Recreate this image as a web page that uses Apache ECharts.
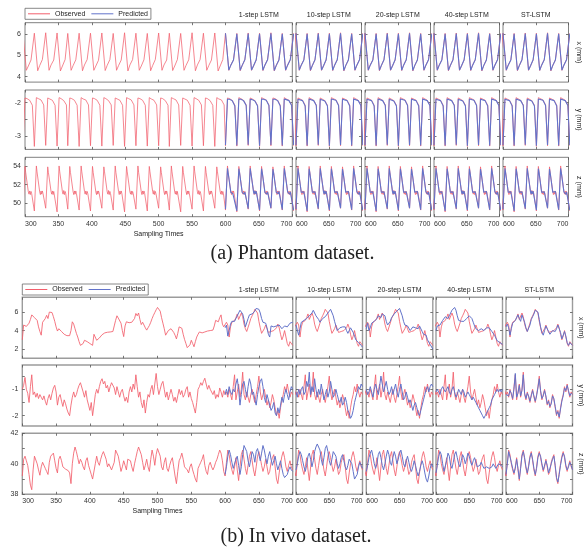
<!DOCTYPE html>
<html><head><meta charset="utf-8">
<script src="https://cdn.jsdelivr.net/npm/echarts@6.0.0/dist/echarts.min.js"></script>
<style>html,body{margin:0;padding:0;background:#fff}#c{width:585px;height:549px}</style>
</head><body><div id="c"></div>
<script>
// ---------- tick labels / categories ----------
const methods = ['1-step LSTM','10-step LSTM','20-step LSTM','40-step LSTM','ST-LSTM'];
const dimLabels = ['x (mm)','y (mm)','z (mm)'];
const wideXTicks = [300,350,400,450,500,550,600,650,700];
const narrowXTicks = [600,650,700];

// ---------- (a) Phantom: [sampling time, value] ----------
const phObsX = [[297,6.02],[302,4.3],[305,4.5],[309,4.78],[314,6.03],[319,4.28],[322,4.52],[326,4.8],
[331,6.05],[336,4.3],[339,4.55],[343,4.78],[348,6.04],[353,4.27],[356,4.5],[360,4.8],
[364,6.02],[369,4.3],[372,4.52],[376,4.79],[381,6.03],[386,4.28],[389,4.55],[393,4.8],
[398,6.03],[403,4.3],[406,4.5],[410,4.77],[415,6.04],[420,4.29],[423,4.53],[427,4.8],
[432,6.02],[437,4.3],[440,4.52],[444,4.78],[449,6.05],[454,4.27],[457,4.55],[461,4.8],
[466,6.03],[471,4.3],[474,4.5],[478,4.79],[483,6.02],[488,4.28],[491,4.52],[495,4.8],
[500,6.04],[505,4.3],[508,4.55],[512,4.78],[516,6.03],[521,4.29],[524,4.5],[528,4.8],
[533,6.02],[538,4.3],[541,4.53],[545,4.79],[550,6.05],[555,4.28],[558,4.55],[562,4.8],
[567,6.03],[572,4.3],[575,4.52],[579,4.78],[584,6.04],[589,4.27],[592,4.5],[596,4.8],
[600,6.03],[605,4.3],[608,4.55],[612,4.79],[617,6.02],[622,4.28],[625,4.52],[629,4.8],
[634,6.04],[639,4.3],[642,4.5],[646,4.78],[651,6.03],[656,4.29],[659,4.55],[663,4.8],
[668,6.05],[673,4.27],[676,4.52],[680,4.79],[685,6.02],[690,4.3],[693,4.55],[697,4.8],[702,6.03]];
const phPredX = [[600,6.03],[605,4.31],[608,4.54],[612,4.78],[617,6.0],[622,4.3],[625,4.53],[629,4.79],
[634,6.01],[639,4.31],[642,4.51],[646,4.79],[651,6.0],[656,4.3],[659,4.54],[663,4.79],
[668,6.02],[673,4.29],[676,4.53],[680,4.78],[685,6.0],[690,4.31],[693,4.54],[697,4.79],[702,6.0]];
const phObsY = [[297,-3.3],[300,-1.86],[303,-1.88],[307,-1.93],[311,-2.08],
[314,-3.32],[317,-1.85],[320,-1.88],[324,-1.92],[328,-2.07],[331,-3.29],[334,-1.86],[337,-1.89],[341,-1.93],[345,-2.08],
[348,-3.31],[351,-1.85],[354,-1.88],[358,-1.94],[362,-2.07],[364,-3.3],[367,-1.86],[370,-1.88],[374,-1.93],[378,-2.08],
[381,-3.32],[384,-1.85],[387,-1.89],[391,-1.92],[395,-2.07],[398,-3.3],[401,-1.86],[404,-1.88],[408,-1.93],[412,-2.08],
[415,-3.31],[418,-1.85],[421,-1.88],[425,-1.94],[429,-2.07],[432,-3.29],[435,-1.86],[438,-1.89],[442,-1.93],[446,-2.08],
[449,-3.32],[452,-1.85],[455,-1.88],[459,-1.92],[463,-2.07],[466,-3.3],[469,-1.86],[472,-1.88],[476,-1.93],[480,-2.08],
[483,-3.31],[486,-1.85],[489,-1.89],[493,-1.93],[497,-2.07],[500,-3.3],[503,-1.86],[506,-1.88],[510,-1.94],[514,-2.08],
[516,-3.32],[519,-1.85],[522,-1.88],[526,-1.92],[530,-2.07],[533,-3.29],[536,-1.86],[539,-1.89],[543,-1.93],[547,-2.08],
[550,-3.31],[553,-1.85],[556,-1.88],[560,-1.93],[564,-2.07],[567,-3.3],[570,-1.86],[573,-1.88],[577,-1.94],[581,-2.08],
[584,-3.32],[587,-1.85],[590,-1.89],[594,-1.92],[598,-2.07],[600,-3.3],[603,-1.86],[606,-1.88],[610,-1.93],[614,-2.08],
[617,-3.31],[620,-1.85],[623,-1.88],[627,-1.93],[631,-2.07],[634,-3.29],[637,-1.86],[640,-1.89],[644,-1.94],[648,-2.08],
[651,-3.32],[654,-1.85],[657,-1.88],[661,-1.92],[665,-2.07],[668,-3.3],[671,-1.86],[674,-1.88],[678,-1.93],[682,-2.08],
[685,-3.31],[688,-1.85],[691,-1.89],[695,-1.93],[699,-2.07],[702,-3.3]];
const phPredY = [[600,-3.28],[603,-1.9],[606,-1.9],[610,-1.94],[614,-2.1],[617,-3.29],[620,-1.89],[623,-1.9],[627,-1.94],[631,-2.09],
[634,-3.27],[637,-1.9],[640,-1.91],[644,-1.95],[648,-2.1],[651,-3.3],[654,-1.89],[657,-1.9],[661,-1.93],[665,-2.09],
[668,-3.28],[671,-1.9],[674,-1.9],[678,-1.94],[682,-2.1],[685,-3.29],[688,-1.89],[691,-1.91],[695,-1.94],[699,-2.09],[702,-3.28]];
const phObsZ = [
[297,49.3],[300,54.0],[301,53.35],[303,53.4],[305,51.2],[306,50.95],[307,51.3],[308,50.9],[309,51.25],[310,51.0],
[314,49.1],[317,54.05],[318,53.4],[320,53.4],[322,51.2],[323,50.9],[324,51.3],[325,50.95],[326,51.3],[327,51.0],
[331,49.4],[334,53.95],[335,53.35],[337,53.4],[339,51.25],[340,50.95],[341,51.3],[342,50.9],[343,51.25],[344,51.05],
[348,49.0],[351,54.05],[352,53.4],[354,53.45],[356,51.2],[357,50.95],[358,51.35],[359,50.9],[360,51.25],[361,51.0],
[364,49.3],[367,54.0],[368,53.35],[370,53.4],[372,51.2],[373,50.9],[374,51.3],[375,50.95],[376,51.3],[377,51.0],
[381,49.2],[384,54.05],[385,53.4],[387,53.4],[389,51.25],[390,50.95],[391,51.3],[392,50.9],[393,51.25],[394,51.0],
[398,49.1],[401,54.0],[402,53.35],[404,53.45],[406,51.2],[407,50.9],[408,51.3],[409,50.95],[410,51.3],[411,51.05],
[415,49.4],[418,53.95],[419,53.4],[421,53.4],[423,51.2],[424,50.95],[425,51.35],[426,50.9],[427,51.25],[428,51.0],
[432,49.2],[435,54.05],[436,53.35],[438,53.4],[440,51.25],[441,50.9],[442,51.3],[443,50.95],[444,51.3],[445,51.0],
[449,49.0],[452,54.0],[453,53.4],[455,53.45],[457,51.2],[458,50.95],[459,51.3],[460,50.9],[461,51.25],[462,51.0],
[466,49.3],[469,54.05],[470,53.35],[472,53.4],[474,51.2],[475,50.9],[476,51.3],[477,50.95],[478,51.3],[479,51.05],
[483,49.1],[486,54.0],[487,53.4],[489,53.4],[491,51.25],[492,50.95],[493,51.35],[494,50.9],[495,51.25],[496,51.0],
[500,49.4],[503,53.95],[504,53.35],[506,53.45],[508,51.2],[509,50.9],[510,51.3],[511,50.95],[512,51.3],[513,51.0],
[516,49.2],[519,54.05],[520,53.4],[522,53.4],[524,51.2],[525,50.95],[526,51.3],[527,50.9],[528,51.25],[529,51.05],
[533,49.0],[536,54.0],[537,53.35],[539,53.4],[541,51.25],[542,50.9],[543,51.3],[544,50.95],[545,51.3],[546,51.0],
[550,49.3],[553,54.05],[554,53.4],[556,53.45],[558,51.2],[559,50.95],[560,51.35],[561,50.9],[562,51.25],[563,51.0],
[567,49.1],[570,54.0],[571,53.35],[573,53.4],[575,51.2],[576,50.9],[577,51.3],[578,50.95],[579,51.3],[580,51.05],
[584,49.4],[587,53.95],[588,53.4],[590,53.4],[592,51.25],[593,50.95],[594,51.3],[595,50.9],[596,51.25],[597,51.0],
[600,49.2],[603,54.05],[604,53.35],[606,53.45],[608,51.2],[609,50.9],[610,51.3],[611,50.95],[612,51.3],[613,51.0],
[617,49.0],[620,54.0],[621,53.4],[623,53.4],[625,51.2],[626,50.95],[627,51.3],[628,50.9],[629,51.25],[630,51.05],
[634,49.3],[637,54.05],[638,53.35],[640,53.4],[642,51.25],[643,50.9],[644,51.35],[645,50.95],[646,51.3],[647,51.0],
[651,49.1],[654,54.0],[655,53.4],[657,53.45],[659,51.2],[660,50.95],[661,51.3],[662,50.9],[663,51.25],[664,51.0],
[668,49.4],[671,53.95],[672,53.35],[674,53.4],[676,51.2],[677,50.9],[678,51.3],[679,50.95],[680,51.3],[681,51.05],
[685,49.2],[688,54.05],[689,53.4],[691,53.4],[693,51.25],[694,50.95],[695,51.3],[696,50.9],[697,51.25],[698,51.0],[702,49.1]];
const phPredZ = [
[600,49.3],[603,53.8],[604,53.3],[606,53.35],[608,51.15],[609,51.0],[610,51.25],[611,51.0],[612,51.2],[613,51.05],
[617,49.1],[620,53.75],[621,53.35],[623,53.35],[625,51.15],[626,51.0],[627,51.25],[628,50.95],[629,51.2],[630,51.05],
[634,49.35],[637,53.8],[638,53.3],[640,53.35],[642,51.2],[643,50.95],[644,51.3],[645,51.0],[646,51.25],[647,51.05],
[651,49.2],[654,53.75],[655,53.35],[657,53.4],[659,51.15],[660,51.0],[661,51.25],[662,50.95],[663,51.2],[664,51.05],
[668,49.4],[671,53.7],[672,53.3],[674,53.35],[676,51.15],[677,50.95],[678,51.25],[679,51.0],[680,51.25],[681,51.05],
[685,49.25],[688,53.8],[689,53.35],[691,53.35],[693,51.2],[694,51.0],[695,51.25],[696,50.95],[697,51.2],[698,51.05],[702,49.2]];

// ---------- (b) In vivo: observed every 2 samples from 300 to 700 ----------
const vivoObsX = [
3.0,4.6,4.5,4.45,4.6,4.8,5.2,5.7,5.55,5.4,
5.6,5.1,4.4,3.9,3.5,4.9,5.05,5.3,5.65,5.3,
6.0,6.1,5.95,5.5,5.0,4.4,3.95,4.2,4.1,3.9,
3.7,3.6,3.55,3.45,3.35,3.45,4.0,4.95,4.7,4.2,
3.7,3.3,2.8,2.4,2.2,2.6,2.95,3.0,2.8,2.7,
2.6,2.45,2.4,3.6,3.5,2.95,2.8,3.2,3.4,3.55,
3.65,3.75,3.8,3.82,3.85,3.85,3.88,3.9,4.5,5.1,
5.6,5.35,5.15,4.8,4.0,3.35,4.5,4.95,4.9,4.85,
4.8,4.9,5.1,5.3,5.85,5.6,5.9,5.2,4.65,4.9,
4.7,4.3,4.05,4.3,4.55,4.9,5.3,5.65,5.95,6.25,
6.5,6.4,6.1,5.4,4.8,4.2,3.5,3.3,4.0,4.1,
4.2,4.0,3.8,3.5,3.1,3.7,4.4,4.5,4.25,3.6,
3.05,2.6,2.15,2.3,2.45,2.95,2.6,2.25,2.8,3.3,
3.6,3.85,3.7,3.75,3.8,3.85,3.9,3.95,3.95,4.0,
4.0,4.05,4.5,5.1,5.3,4.95,5.4,5.7,4.7,4.4,
4.3,4.9,4.6,3.3,4.4,4.9,5.0,5.1,5.4,5.8,
5.2,5.0,5.9,5.5,4.7,4.2,3.9,4.1,4.8,5.3,
5.6,5.9,6.3,6.4,5.9,5.0,4.3,3.7,3.5,4.2,
4.6,4.2,3.8,3.6,3.9,4.1,4.0,3.9,4.3,4.7,
4.3,3.6,3.0,3.4,4.0,3.3,2.6,2.3,2.8,2.6,
2.4];
const vivoObsY = [
-1.0,-0.85,-0.55,-1.0,-1.15,-1.5,-0.9,-0.45,-1.2,-1.1,
-1.3,-1.15,-1.35,-1.2,-1.3,-1.4,-1.25,-1.45,-1.6,-1.35,
-1.2,-1.4,-1.15,-0.95,-0.85,-1.1,-1.6,-1.3,-1.2,-1.45,
-1.65,-1.4,-1.55,-1.75,-1.9,-2.0,-1.6,-1.3,-1.1,-1.3,
-1.2,-1.0,-0.85,-0.75,-0.7,-1.1,-1.3,-1.05,-1.4,-1.6,
-1.8,-1.5,-2.0,-1.6,-1.2,-1.0,-1.15,-0.9,-0.7,-0.6,
-0.8,-0.7,-0.95,-0.85,-1.1,-0.9,-0.75,-0.7,-0.95,-1.2,
-0.9,-1.1,-1.3,-1.1,-1.0,-1.25,-1.45,-1.3,-1.5,-1.1,
-0.9,-1.1,-0.8,-1.0,-0.45,-0.9,-1.3,-1.1,-1.5,-1.7,
-1.4,-1.9,-1.5,-1.2,-1.3,-1.0,-0.85,-1.2,-0.8,-0.4,
-0.9,-1.2,-1.0,-0.8,-0.7,-1.0,-1.3,-1.1,-1.4,-1.2,
-1.0,-1.2,-1.45,-1.3,-1.5,-1.25,-1.0,-1.2,-1.05,-1.3,
-1.2,-1.0,-0.9,-1.3,-1.1,-1.35,-1.5,-1.7,-1.9,-1.5,
-1.0,-0.9,-0.75,-0.85,-0.7,-0.58,-0.8,-1.0,-0.85,-1.0,
-0.95,-1.2,-1.05,-1.35,-1.2,-1.3,-0.95,-1.1,-1.3,-1.05,
-1.2,-1.1,-1.3,-1.0,-1.2,-1.4,-0.9,-0.45,-1.4,-1.1,
-0.8,-1.3,-1.0,-0.35,-1.2,-1.4,-1.1,-1.3,-1.5,-1.2,
-1.0,-1.3,-1.5,-1.2,-0.9,-0.5,-1.1,-1.4,-1.2,-1.0,
-1.3,-1.6,-1.4,-1.7,-1.5,-1.2,-1.4,-1.7,-2.0,-1.8,
-2.1,-1.7,-1.4,-1.2,-0.9,-1.1,-0.8,-1.1,-1.3,-1.1,
-1.2];
const vivoObsZ = [
39.2,40.3,40.5,40.2,39.9,39.3,38.6,38.3,39.6,40.5,
40.6,40.0,39.6,39.25,39.8,40.1,40.0,39.7,39.5,39.3,
40.1,40.5,40.6,40.7,40.2,39.7,39.4,40.3,40.5,40.2,
39.8,39.7,39.65,39.6,39.55,39.4,38.7,40.0,40.7,41.1,
40.8,40.4,40.0,40.3,40.1,39.8,39.6,40.2,40.4,39.9,
39.6,39.3,39.0,38.95,40.0,40.5,40.1,39.9,40.3,40.6,
40.8,40.9,40.3,39.8,40.0,39.9,39.6,39.5,40.1,40.9,
41.0,40.5,40.0,39.5,39.8,40.2,39.9,39.6,40.3,40.4,
40.2,39.8,39.5,40.0,40.4,40.8,41.1,41.15,40.6,40.1,
39.6,39.9,40.3,39.8,39.5,40.3,40.9,40.5,39.9,40.6,
41.0,41.1,40.5,39.8,39.6,40.1,40.4,39.7,39.5,39.9,
40.2,40.4,39.8,39.2,38.7,39.5,40.2,40.4,40.7,40.3,
39.8,39.9,39.6,39.4,39.8,40.0,39.6,39.3,39.0,38.8,
39.7,39.9,40.1,40.3,40.6,39.9,39.5,39.3,39.9,40.1,
39.8,39.6,39.8,40.1,40.3,40.6,40.9,40.7,40.2,39.5,
39.2,40.1,40.9,40.6,40.0,39.6,39.3,39.8,40.4,39.6,
38.9,39.8,40.6,40.9,40.3,39.7,39.3,39.9,40.5,40.8,
40.2,39.6,39.2,39.8,40.5,40.8,40.4,39.9,39.5,39.8,
40.3,39.8,39.3,39.5,40.1,40.4,40.6,39.8,39.0,38.7,
39.4,40.0,40.5,40.8,40.4,39.8,39.5,39.9,40.2,39.8,
39.6];

// ---------- (b) In vivo predictions, every 2 samples from 600 to 700 ----------
const vivoPredX1 = [4.3,4.6,3.4,4.0,4.7,5.0,5.1,5.0,5.3,5.5,5.9,6.2,6.0,5.8,5.2,4.4,4.6,5.3,5.7,5.5,
5.8,6.0,6.1,6.4,6.55,6.3,5.9,5.3,4.9,5.0,4.8,4.3,3.6,3.3,4.5,4.6,4.4,4.35,4.5,4.6,
4.6,4.4,4.2,4.3,4.5,4.6,4.4,4.6,4.8,4.75,4.9];
const vivoPredX10 = [4.6,4.8,3.5,4.2,4.9,5.0,5.1,5.2,5.3,5.5,5.6,5.7,5.9,6.2,6.0,5.6,5.4,5.2,4.9,5.0,
5.3,5.4,5.5,5.7,5.9,6.1,6.3,6.1,5.6,5.0,4.5,4.0,4.1,4.3,4.2,4.4,4.5,4.4,4.0,3.7,
3.8,4.3,4.2,3.8,3.4,3.0,2.8,2.7,2.6,2.4,2.2];
const vivoPredX20 = [4.2,4.8,4.0,4.3,4.8,5.0,5.0,5.1,5.3,5.6,5.5,5.4,5.8,5.9,5.6,5.0,4.6,4.8,5.0,5.4,
5.6,5.8,5.9,6.1,6.3,6.4,6.2,5.6,5.0,4.6,4.4,4.5,4.3,4.0,4.2,4.4,4.5,4.3,4.1,4.2,
4.5,4.3,3.9,3.6,3.7,3.5,3.0,2.8,2.5,2.3,2.0];
const vivoPredX40 = [4.0,4.5,4.7,4.6,4.8,5.1,5.3,5.5,5.4,5.3,5.6,5.9,6.2,6.4,6.5,6.2,5.6,5.1,4.9,5.0,
5.1,5.0,5.1,5.3,5.5,5.6,5.5,5.3,4.9,4.5,4.2,4.1,4.0,4.1,4.2,4.1,4.0,4.1,4.3,4.4,
4.3,4.1,3.9,3.7,3.5,3.2,2.9,2.8,2.7,2.6,2.5];
const vivoPredXST = [4.4,4.7,4.3,3.5,4.2,4.8,5.0,5.1,5.3,5.7,5.3,5.0,5.7,5.6,4.9,4.3,3.9,4.0,4.6,5.2,
5.5,5.8,6.2,6.4,6.0,5.2,4.4,3.8,3.5,4.0,4.5,4.3,3.9,3.6,3.8,4.0,4.0,3.9,4.2,4.6,
4.4,3.8,3.1,3.3,3.9,3.4,2.7,2.4,2.7,2.6,2.4];
const vivoPredY1 = [-1.2,-1.0,-1.2,-0.9,-1.1,-1.2,-1.0,-1.1,-0.8,-0.6,-1.0,-1.6,-1.2,-0.8,-0.7,-1.0,-1.3,-0.9,-0.6,-0.8,
-1.2,-1.1,-1.4,-1.6,-1.2,-0.9,-0.7,-0.6,-0.9,-1.3,-1.5,-1.2,-1.4,-1.6,-1.8,-1.7,-1.5,-1.9,-2.0,-1.7,
-1.9,-1.6,-1.3,-1.5,-1.2,-1.0,-1.2,-1.4,-1.1,-0.9,-1.0];
const vivoPredY10 = [-1.1,-1.3,-1.0,-1.2,-1.0,-0.9,-1.2,-1.1,-0.7,-0.9,-0.35,-1.2,-0.9,-1.1,-0.6,-1.0,-1.3,-1.0,-1.2,-0.8,
-1.1,-1.4,-1.2,-1.0,-1.3,-1.1,-0.7,-1.0,-1.3,-1.2,-1.0,-1.2,-1.4,-1.5,-1.3,-1.6,-1.5,-1.3,-1.5,-1.8,
-1.9,-2.1,-2.0,-1.8,-1.5,-1.3,-1.1,-0.9,-1.0,-0.8,-0.9];
const vivoPredY20 = [-1.0,-1.2,-1.1,-0.9,-1.1,-1.3,-1.0,-0.8,-1.0,-1.2,-0.9,-0.5,-0.8,-1.1,-0.9,-0.7,-1.0,-1.2,-1.1,-0.9,
-1.2,-1.0,-0.8,-1.1,-1.3,-1.0,-0.8,-1.1,-1.4,-1.3,-1.1,-1.3,-1.5,-1.4,-1.6,-1.8,-1.6,-1.5,-1.7,-1.9,
-2.0,-1.8,-1.6,-1.4,-1.2,-1.0,-0.9,-1.1,-0.9,-0.8,-0.9];
const vivoPredY40 = [-1.1,-1.0,-1.1,-1.2,-1.0,-0.9,-1.0,-1.1,-1.0,-0.9,-1.1,-1.2,-1.0,-0.9,-1.1,-1.3,-1.2,-1.0,-1.1,-1.2,
-1.0,-1.1,-1.3,-1.2,-1.1,-1.2,-1.3,-1.4,-1.3,-1.4,-1.5,-1.6,-1.7,-1.8,-1.9,-2.0,-2.1,-2.0,-1.9,-1.8,
-1.7,-1.6,-1.4,-1.3,-1.2,-1.1,-1.0,-1.1,-1.0,-1.1,-1.0];
const vivoPredYST = [-1.2,-1.15,-1.25,-1.05,-1.15,-1.35,-1.0,-0.4,-1.3,-1.15,-0.85,-1.25,-1.05,-0.45,-1.15,-1.35,-1.15,-1.25,-1.45,-1.25,
-1.05,-1.25,-1.45,-1.25,-0.95,-0.6,-1.05,-1.35,-1.25,-1.05,-1.25,-1.55,-1.45,-1.65,-1.55,-1.25,-1.35,-1.65,-1.95,-1.85,
-2.05,-1.75,-1.45,-1.25,-0.95,-1.05,-0.85,-1.05,-1.25,-1.15,-1.2];
const vivoPredZ1 = [39.3,39.8,40.5,40.9,40.6,40.1,39.7,39.8,40.3,40.5,39.9,39.3,39.8,40.6,41.2,41.3,40.8,40.2,39.8,40.3,
40.8,40.6,40.1,40.8,41.0,40.6,40.2,40.7,41.2,40.9,40.4,40.0,40.5,40.8,40.3,39.9,40.2,40.5,40.0,39.6,
39.9,40.2,39.7,39.3,39.1,39.0,39.3,39.6,39.8,39.6,39.5];
const vivoPredZ10 = [39.6,40.0,40.5,40.8,40.6,40.2,39.8,39.5,39.9,40.5,40.7,40.3,39.8,40.2,40.8,41.1,41.3,41.4,40.9,40.3,
39.9,40.4,41.0,41.2,40.8,40.2,39.9,40.3,40.8,40.9,40.5,40.0,39.7,40.0,40.4,40.6,40.2,39.8,39.6,39.9,
40.3,40.4,40.0,39.5,39.0,38.9,39.3,39.8,40.1,39.9,39.7];
const vivoPredZ20 = [39.5,39.9,40.4,40.7,40.9,40.5,40.0,39.7,40.0,40.6,40.8,40.4,39.9,39.6,40.0,40.5,40.9,40.6,40.1,39.9,
40.4,40.8,40.5,40.0,40.3,40.7,40.9,40.5,40.0,39.8,40.2,40.5,40.1,39.7,39.5,39.8,40.2,39.9,39.5,39.2,
39.5,39.9,40.2,39.9,39.4,39.0,38.8,39.2,39.7,40.0,39.8];
const vivoPredZ40 = [39.4,39.9,40.5,40.8,40.6,40.0,39.5,39.6,40.2,40.7,40.5,39.9,39.7,40.1,40.6,40.8,40.4,40.0,39.8,40.2,
40.6,40.4,40.0,40.3,40.7,40.5,40.1,39.9,40.2,40.4,40.1,39.8,39.7,39.9,40.1,39.9,39.7,39.6,39.8,39.9,
39.7,39.6,39.8,40.0,39.9,39.7,39.8,40.0,40.1,39.9,39.8];
const vivoPredZST = [39.3,40.0,40.8,40.7,40.1,39.7,39.4,39.7,40.3,39.7,39.0,39.7,40.5,40.8,40.4,39.8,39.4,39.8,40.4,40.7,
40.3,39.7,39.3,39.7,40.4,40.7,40.5,40.0,39.6,39.7,40.2,39.9,39.4,39.5,40.0,40.3,40.5,39.9,39.1,38.8,
39.3,39.9,40.4,40.7,40.5,39.9,39.6,39.8,40.1,39.9,39.6];

// ---------- build ----------
const seq = (vals, t0, step) => vals.map((v, i) => [t0 + i * step, v]);
const FONT = 'Liberation Sans, Arial, Helvetica, sans-serif';
const OBS_C = '#f25f6c', PRED_C = '#6273ca';

const datasets = [
  { predW: 1.1, obsW: 0.75, rows: [
    { min: 3.75, max: 6.52, ticks: [4,5,6], labels: [4,5,6], obs: phObsX, preds: [phPredX,phPredX,phPredX,phPredX,phPredX] },
    { min: -3.41, max: -1.62, ticks: [-3,-2.5,-2], labels: [-3,-2], obs: phObsY, preds: [phPredY,phPredY,phPredY,phPredY,phPredY] },
    { min: 48.47, max: 55.0, ticks: [50,52,54], labels: [50,52,54], obs: phObsZ, preds: [phPredZ,phPredZ,phPredZ,phPredZ,phPredZ] }
  ]},
  { predW: 1.0, obsW: 0.85, rows: [
    { min: 1.0, max: 7.6, ticks: [2,4,6], labels: [2,4,6], obs: seq(vivoObsX,300,2),
      preds: [vivoPredX1,vivoPredX10,vivoPredX20,vivoPredX40,vivoPredXST].map(a => seq(a,600,2)) },
    { min: -2.39, max: -0.08, ticks: [-2,-1.5,-1,-0.5], labels: [-2,-1], obs: seq(vivoObsY,300,2),
      preds: [vivoPredY1,vivoPredY10,vivoPredY20,vivoPredY40,vivoPredYST].map(a => seq(a,600,2)) },
    { min: 38, max: 42, ticks: [38,39,40,41,42], labels: [38,40,42], obs: seq(vivoObsZ,300,2),
      preds: [vivoPredZ1,vivoPredZ10,vivoPredZ20,vivoPredZ40,vivoPredZST].map(a => seq(a,600,2)) }
  ]}
];

const layouts = [
  { rowTop: [22.7, 90, 157.3], rowH: 59.4, wideL: 25, wideW: 267.3, narrowL: [296, 365, 434, 503], narrowW: 65.5,
    border: '#808080', bw: 1, titleY: 15.3, legendTop: 8.3, legendLeft: 25, stY: 234.3, capY: 253.5,
    caption: '(a) Phantom dataset.', capX: 292.5, dimX: 578.5 },
  { rowTop: [297.3, 365, 433.3], rowH: 61, wideL: 22.3, wideW: 270.4, narrowL: [296, 366.3, 436, 506], narrowW: 66.5,
    border: '#9c9c9c', bw: 1.4, titleY: 290.3, legendTop: 284, legendLeft: 22.3, stY: 510.7, capY: 537,
    caption: '(b) In vivo dataset.', capX: 296, dimX: 580.5 }
];

const grids = [], xAxes = [], yAxes = [], series = [], graphics = [];
const tickStyle = { color: '#555', width: 0.8 };
function mkX(gi, pos, min, max, ticks, showLabel) {
  return { type: 'value', gridIndex: gi, position: pos, min, max,
    axisLine: { show: false, onZero: false }, splitLine: { show: false },
    axisTick: { show: true, inside: true, length: 2.5, customValues: ticks, lineStyle: tickStyle },
    axisLabel: { show: showLabel, customValues: ticks, fontSize: 7, color: '#333', fontFamily: FONT, margin: 3.5,
      alignMinLabel: 'left', alignMaxLabel: 'right' } };
}
function mkY(gi, pos, R, showLabel) {
  return { type: 'value', gridIndex: gi, position: pos, min: R.min, max: R.max,
    axisLine: { show: false, onZero: false }, splitLine: { show: false },
    axisTick: { show: true, inside: true, length: 2.5, customValues: R.ticks, lineStyle: tickStyle },
    axisLabel: { show: showLabel, customValues: R.labels, fontSize: 7, color: '#333', fontFamily: FONT, margin: 4 } };
}
function txt(x, y, text, size, family, extra) {
  return Object.assign({ type: 'text', x, y, silent: true,
    style: { text, fontSize: size, fontFamily: family, fill: '#222', align: 'center', verticalAlign: 'middle',
             textAlign: 'center', textVerticalAlign: 'middle' } }, extra || {});
}

layouts.forEach((L, p) => {
  const D = datasets[p];
  D.rows.forEach((R, r) => {
    for (let c = 0; c < 5; c++) {
      const wide = c === 0;
      const left = wide ? L.wideL : L.narrowL[c - 1];
      const width = wide ? L.wideW : L.narrowW;
      const gi = grids.length;
      grids.push({ left, top: L.rowTop[r], width, height: L.rowH, show: true, borderColor: L.border,
        borderWidth: L.bw, backgroundColor: 'transparent', containLabel: false, outerBoundsMode: 'none' });
      const xmin = wide ? 300 : 600;
      const xt = wide ? wideXTicks : narrowXTicks;
      xAxes.push(mkX(gi, 'bottom', xmin, 700, xt, r === 2));
      xAxes.push(mkX(gi, 'top', xmin, 700, xt, false));
      yAxes.push(mkY(gi, 'left', R, wide));
      yAxes.push(mkY(gi, 'right', R, false));
      const xi = xAxes.length - 2, yi = yAxes.length - 2;
      const obsData = wide ? R.obs : R.obs.filter(d => d[0] >= 580);
      const common = { type: 'line', xAxisIndex: xi, yAxisIndex: yi, symbol: 'none', showSymbol: false,
        clip: true, silent: true, animation: false };
      series.push(Object.assign({ name: 'Observed', data: obsData, color: OBS_C,
        lineStyle: { color: OBS_C, width: D.obsW }, z: 2 }, common));
      series.push(Object.assign({ name: 'Predicted', data: R.preds[c], color: PRED_C,
        lineStyle: { color: PRED_C, width: D.predW }, z: 3 }, common));
    }
    graphics.push(txt(L.dimX, L.rowTop[r] + L.rowH / 2, dimLabels[r], 7, FONT, { rotation: -Math.PI / 2 }));
  });
  methods.forEach((m, c) => {
    const cx = c === 0 ? L.wideL + L.wideW * (650 - 300) / 400 : L.narrowL[c - 1] + L.narrowW / 2;
    graphics.push(txt(cx, L.titleY, m, 7, FONT));
  });
  graphics.push(txt(L.wideL + L.wideW / 2, L.stY, 'Sampling Times', 7, FONT));
  graphics.push(txt(L.capX, L.capY, L.caption, 20, 'Liberation Serif, Times New Roman, serif'));
});

const chart = echarts.init(document.getElementById('c'), null, { renderer: 'canvas' });
chart.setOption({
  animation: false,
  backgroundColor: '#fff',
  grid: grids, xAxis: xAxes, yAxis: yAxes, series,
  legend: layouts.map(L => ({ left: L.legendLeft, top: L.legendTop, orient: 'horizontal',
    data: ['Observed', 'Predicted'], icon: 'rect', itemWidth: 22, itemHeight: 1, itemGap: 6,
    padding: [2, 3, 2, 3], borderColor: '#6a6a6a', borderWidth: 0.8, selectedMode: false,
    textStyle: { fontSize: 7, color: '#222', fontFamily: FONT } })),
  graphic: graphics
});
</script>
</body></html>
